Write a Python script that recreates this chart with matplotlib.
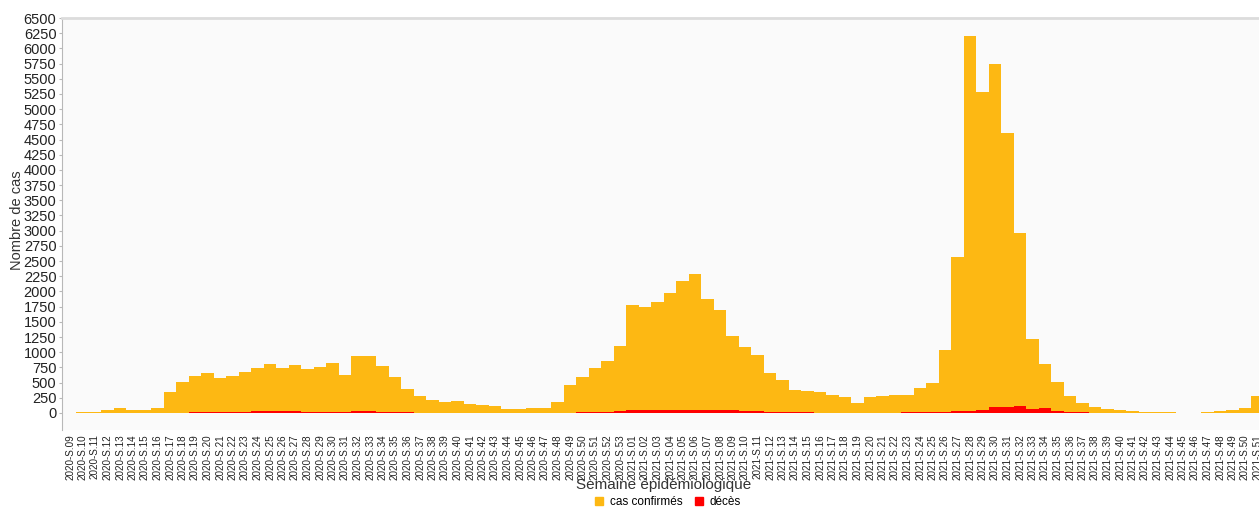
"""
Histogramme hebdomadaire : cas confirmes et deces par semaine epidemiologique.
"""

import numpy as np
import matplotlib
matplotlib.use("Agg")
import matplotlib.pyplot as plt
from matplotlib.patches import Patch

plt.rcParams['font.family'] = ['Liberation Sans', 'DejaVu Sans']

# semaines 2020-S.09 -> 2021-S.51 (la derniere est coupee a droite)
semaines = [f"2020-S.{w:02d}" for w in range(9, 54)] + [f"2021-S.{w:02d}" for w in range(1, 52)]

cas_confirmes = [
    0, 8, 20, 45, 80, 55, 55, 80, 350, 515, 610, 650, 580, 605, 680, 745, 805, 735,
    795, 725, 760, 830, 625, 940, 930, 780, 600, 395, 285, 215, 175, 190, 155, 130,
    120, 65, 60, 80, 90, 180, 455, 600, 745, 860, 1100,
    1770, 1745, 1825, 1980, 2170, 2280, 1875, 1695, 1265, 1080, 955, 665, 535, 385,
    360, 350, 295, 265, 160, 270, 275, 295,
    300, 410, 495, 1030, 2570, 6200, 5275, 5745, 4600, 2955, 1225, 810, 510, 285,
    165, 100, 60, 43, 33, 22, 15, 10, 5, 3, 10, 33, 50, 82, 280,
]

deces = [
    0, 0, 0, 0, 0, 0, 0, 1, 2, 5, 8, 10, 10, 12, 18, 25, 28, 30,
    25, 20, 22, 20, 18, 28, 25, 18, 12, 8, 5, 4, 3, 3, 2, 2,
    1, 1, 1, 1, 2, 3, 5, 8, 15, 22, 30,
    45, 50, 48, 45, 42, 52, 55, 55, 45, 40, 30, 22, 15, 10,
    8, 6, 5, 4, 3, 4, 5, 6,
    8, 10, 12, 15, 25, 28, 55, 93, 104, 115, 66, 82, 38, 15,
    8, 5, 3, 2, 1, 1, 0, 0, 0, 0, 0, 1, 1, 2, 3,
]

ORANGE = '#FDB813'
ROUGE = '#FF0000'


def trace():
    W, H = 1259, 508
    fig = plt.figure(figsize=(W / 100, H / 100), dpi=100)
    ax = fig.add_axes([62 / W, 1 - 430 / H, 1 - 62 / W, (430 - 18) / H])
    ax.set_facecolor('#FAFAFA')

    x = np.arange(len(semaines))
    ax.bar(x, cas_confirmes, width=1.0, color=ORANGE, linewidth=0)
    ax.bar(x, deces, width=1.0, color=ROUGE, linewidth=0)

    ax.set_xlim(-0.64, 95.12)
    ax.set_ylim(-280, 6500)

    # axes / bordures
    for s in ('right', 'bottom'):
        ax.spines[s].set_visible(False)
    ax.spines['left'].set_color('#b8b8b8')
    ax.spines['top'].set_color('#dcdcdc')
    ax.spines['top'].set_linewidth(2)

    ax.set_yticks(np.arange(0, 6501, 250))
    ax.tick_params(axis='y', length=2, color='#b8b8b8', labelsize=10.5,
                   labelcolor='#222222', pad=2)
    ax.set_xticks(x)
    ax.set_xticklabels(semaines, rotation=90, fontsize=7.1, color='#222222')
    ax.tick_params(axis='x', length=0, pad=3)

    fig.text(17 / W, 1 - 220 / H, "Nombre de cas", rotation=90, ha='center',
             va='center', fontsize=10.5, color='#333333')
    fig.text(664 / W, 1 - 485 / H, "Semaine épidémiologique", ha='center',
             va='center', fontsize=11, color='#333333')

    handles = [Patch(color=ORANGE, label='cas confirmés'), Patch(color=ROUGE, label='décès')]
    fig.legend(handles=handles, loc='center', bbox_to_anchor=(668 / W, 1 - 502 / H),
               ncol=2, frameon=False, fontsize=8.5, handlelength=0.7,
               handleheight=0.7, handletextpad=0.6, columnspacing=1.0)

    fig.savefig('out.png', dpi=100)
    plt.close(fig)


if __name__ == "__main__":
    trace()
